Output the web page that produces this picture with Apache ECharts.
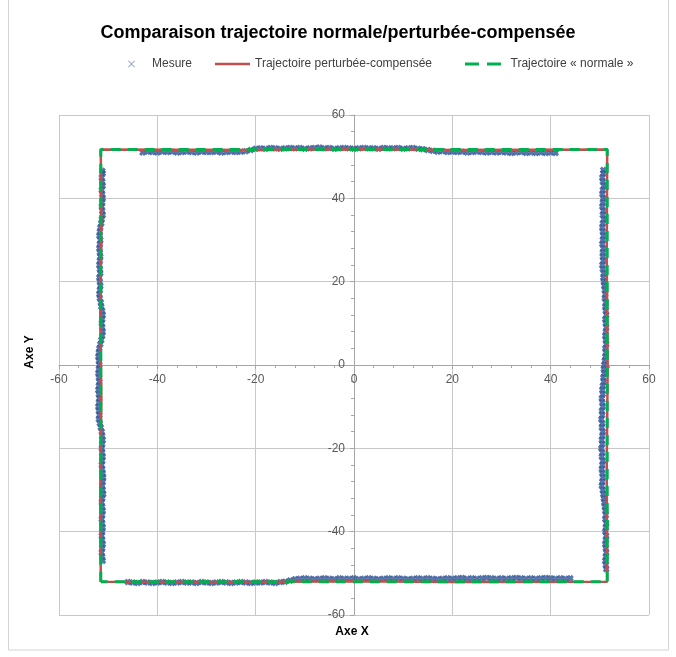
<!DOCTYPE html>
<html><head><meta charset="utf-8">
<script src="https://cdn.jsdelivr.net/npm/echarts@6/dist/echarts.min.js"></script>
<style>html,body{margin:0;padding:0;background:#fff}#c{width:676px;height:657px}</style>
</head><body><div id="c"></div>
<script>
const titleText = 'Comparaison trajectoire normale/perturbée-compensée';
const seriesNames = ['Mesure', 'Trajectoire perturbée-compensée', 'Trajectoire « normale »'];
const axisTicks = [-60, -40, -20, 0, 20, 40, 60];

// Mesure : points relevés le long des quatre côtés
const measureTop = [[-43,51.0],[-42,51.2],[-41,51.1],[-40,51.0],[-39,51.2],[-38,51.1],[-37,51.2],[-36,51.0],[-35,51.1],[-34,51.2],[-33,51.1],[-32,51.0],[-31,51.2],[-30,51.1],[-29,51.1],[-28,51.2],[-27,51.0],[-26,51.1],[-25,51.2],[-24,51.1],[-23,51.2],[-22,51.3],[-21,51.6],[-20,51.9],[-19,52.0],[-18,51.9],[-17,52.1],[-16,52.0],[-15,51.9],[-14,52.0],[-13,52.1],[-12,52.0],[-11,52.1],[-10,51.9],[-9,52.0],[-8,52.1],[-7,52.2],[-6,52.0],[-5,52.1],[-4,51.9],[-3,52.0],[-2,52.1],[-1,52.0],[0,51.9],[1,52.0],[2,52.1],[3,52.0],[4,52.0],[5,51.9],[6,52.1],[7,52.0],[8,52.0],[9,52.1],[10,51.9],[11,52.0],[12,52.1],[13,51.9],[14,51.8],[15,51.6],[16,51.4],[17,51.2],[18,51.3],[19,51.1],[20,51.2],[21,51.1],[22,51.2],[23,51.0],[24,51.1],[25,51.2],[26,51.1],[27,51.0],[28,51.1],[29,51.0],[30,51.1],[31,51.0],[32,50.9],[33,51.0],[34,51.1],[35,50.9],[36,51.0],[37,50.9],[38,51.0],[39,50.9],[40,51.0],[41,50.9]];
const measureRight = [[50.7,46.8],[50.7,46],[50.5,45],[50.6,44],[50.8,43],[50.6,42],[50.5,41],[50.7,40],[50.6,39],[50.5,38],[50.7,37],[50.6,36],[50.8,35],[50.6,34],[50.5,33],[50.6,32],[50.7,31],[50.6,30],[50.5,29],[50.7,28],[50.6,27],[50.6,26],[50.7,25],[50.5,24],[50.6,23],[50.8,22],[50.7,21],[50.8,20],[50.9,19],[51.0,18],[51.1,17],[51.0,16],[51.2,15],[51.1,14],[51.2,13],[51.3,12],[51.1,11],[51.2,10],[51.3,9],[51.2,8],[51.1,7],[51.2,6],[51.3,5],[51.1,4],[51.2,3],[51.1,2],[51.0,1],[50.9,0],[50.8,-1],[50.9,-2],[50.7,-3],[50.8,-4],[50.6,-5],[50.5,-6],[50.6,-7],[50.4,-8],[50.5,-9],[50.6,-10],[50.4,-11],[50.5,-12],[50.3,-13],[50.5,-14],[50.4,-15],[50.6,-16],[50.5,-17],[50.4,-18],[50.5,-19],[50.3,-20],[50.5,-21],[50.4,-22],[50.6,-23],[50.5,-24],[50.4,-25],[50.5,-26],[50.6,-27],[50.5,-28],[50.4,-29],[50.6,-30],[50.7,-31],[50.8,-32],[50.9,-33],[51.0,-34],[51.1,-35],[51.2,-36],[51.1,-37],[51.3,-38],[51.2,-39],[51.1,-40],[51.3,-41],[51.2,-42],[51.1,-43],[51.2,-44],[51.3,-45],[51.2,-46],[51.1,-47],[51.2,-48],[51.3,-49]];
const measureBottom = [[-46,-52.1],[-45,-52.2],[-44,-52.3],[-43,-52.1],[-42,-52.2],[-41,-52.3],[-40,-52.2],[-39,-52.1],[-38,-52.2],[-37,-52.3],[-36,-52.2],[-35,-52.1],[-34,-52.2],[-33,-52.2],[-32,-52.3],[-31,-52.1],[-30,-52.2],[-29,-52.3],[-28,-52.2],[-27,-52.1],[-26,-52.2],[-25,-52.3],[-24,-52.2],[-23,-52.1],[-22,-52.2],[-21,-52.3],[-20,-52.2],[-19,-52.2],[-18,-52.1],[-17,-52.2],[-16,-52.3],[-15,-52.1],[-14,-52.0],[-13,-51.7],[-12,-51.4],[-11,-51.3],[-10,-51.2],[-9,-51.3],[-8,-51.4],[-7,-51.3],[-6,-51.2],[-5,-51.3],[-4,-51.4],[-3,-51.2],[-2,-51.3],[-1,-51.3],[0,-51.2],[1,-51.4],[2,-51.3],[3,-51.2],[4,-51.3],[5,-51.4],[6,-51.3],[7,-51.2],[8,-51.3],[9,-51.2],[10,-51.3],[11,-51.4],[12,-51.3],[13,-51.2],[14,-51.3],[15,-51.2],[16,-51.3],[17,-51.4],[18,-51.3],[19,-51.2],[20,-51.3],[21,-51.2],[22,-51.1],[23,-51.3],[24,-51.2],[25,-51.3],[26,-51.2],[27,-51.1],[28,-51.2],[29,-51.3],[30,-51.2],[31,-51.3],[32,-51.2],[33,-51.1],[34,-51.2],[35,-51.3],[36,-51.2],[37,-51.3],[38,-51.2],[39,-51.1],[40,-51.2],[41,-51.3],[42,-51.2],[43,-51.3],[44,-51.2]];
const measureLeft = [[-51.2,46.6],[-51.1,46],[-51.3,45],[-51.2,44],[-51.1,43],[-51.3,42],[-51.2,41],[-51.1,40],[-51.2,39],[-51.3,38],[-51.2,37],[-51.1,36],[-51.3,35],[-51.4,34],[-51.6,33],[-51.7,32],[-51.8,31],[-51.6,30],[-51.7,29],[-51.8,28],[-51.7,27],[-51.6,26],[-51.7,25],[-51.8,24],[-51.7,23],[-51.6,22],[-51.8,21],[-51.7,20],[-51.6,19],[-51.7,18],[-51.8,17],[-51.7,16],[-51.5,15],[-51.4,14],[-51.2,13],[-51.1,12],[-51.2,11],[-51.3,10],[-51.2,9],[-51.1,8],[-51.2,7],[-51.4,6],[-51.6,5],[-51.8,4],[-51.9,3],[-52.0,2],[-51.9,1],[-51.8,0],[-51.9,-1],[-52.0,-2],[-51.9,-3],[-51.8,-4],[-51.9,-5],[-52.0,-6],[-51.9,-7],[-51.8,-8],[-51.9,-9],[-52.0,-10],[-51.9,-11],[-51.8,-12],[-51.9,-13],[-51.7,-14],[-51.5,-15],[-51.3,-16],[-51.2,-17],[-51.1,-18],[-51.2,-19],[-51.3,-20],[-51.2,-21],[-51.1,-22],[-51.2,-23],[-51.3,-24],[-51.2,-25],[-51.1,-26],[-51.0,-27],[-51.1,-28],[-51.2,-29],[-51.1,-30],[-51.0,-31],[-51.2,-32],[-51.3,-33],[-51.2,-34],[-51.1,-35],[-51.2,-36],[-51.3,-37],[-51.2,-38],[-51.1,-39],[-51.2,-40],[-51.3,-41],[-51.2,-42],[-51.1,-43],[-51.2,-44],[-51.3,-45],[-51.2,-46],[-51.1,-47]];

// Trajectoire perturbée-compensée
const compensatedPath = [[-51.5,-52.0],[-51.6,-30],[-51.4,-8],[-51.6,12],[-51.4,30],[-51.5,51.7],[-20,51.6],[0,51.8],[20,51.6],[51.5,51.7],[51.4,25],[51.6,0],[51.4,-25],[51.5,-52.0],[20,-52.1],[0,-51.9],[-20,-52.1],[-51.5,-52.0]];
// Trajectoire « normale »
const normalPath = [[-51.5,-52.0],[-51.5,51.7],[51.5,51.7],[51.5,-52.0],[-51.5,-52.0]];

const measureAll = measureTop.concat(measureRight, measureBottom, measureLeft);

const crossPath = 'path://M0,3L3,0L5,2L7,0L10,3L8,5L10,7L7,10L5,8L3,10L0,7L2,5Z';
const legendCross = 'path://M0,1L1,0L5,4L9,0L10,1L6,5L10,9L9,10L5,6L1,10L0,9L4,5Z';
const redIcon = 'path://M0,0H35V2.5H0Z';
const greenIcon = 'path://M0,0H14V3H0ZM22,0H36V3H22Z';
const blue = '#2f5496';
const red = '#c0504d';
const green = '#00b050';
const font = '"Liberation Sans", Arial, sans-serif';

function valueAxis(offset) {
  return {
    type: 'value', min: axisTicks[0], max: axisTicks[axisTicks.length - 1], interval: 20,
    offset: offset,
    axisLine: { show: true, onZero: false, lineStyle: { color: '#a6a6a6', width: 1 } },
    axisTick: { show: true, length: 4, lineStyle: { color: '#a6a6a6' } },
    minorTick: { show: true, splitNumber: 5, length: 3, lineStyle: { color: '#a6a6a6' } },
    axisLabel: { color: '#595959', fontSize: 12, fontFamily: font, margin: 9 },
    splitLine: { show: true, lineStyle: { color: '#c8c8c8', width: 1 } }
  };
}

const chart = echarts.init(document.getElementById('c'), null, { renderer: 'canvas' });
chart.setOption({
  backgroundColor: '#fff',
  animation: false,
  title: {
    text: titleText, left: 'center', top: 19,
    textStyle: { fontSize: 18, fontWeight: 'bold', color: '#000', fontFamily: font }
  },
  legend: [
    { data: [{ name: seriesNames[0], icon: legendCross }], left: 128, top: 58, padding: 0, itemWidth: 7, itemHeight: 7,
      itemStyle: { color: '#8497c0' },
      textStyle: { fontSize: 12, color: '#404040', fontFamily: font, padding: [0, 0, 0, 12] } },
    { data: [{ name: seriesNames[1], icon: redIcon }], left: 215, top: 58, padding: 0, itemWidth: 35, itemHeight: 3,
      itemStyle: { color: red },
      textStyle: { fontSize: 12, color: '#404040', fontFamily: font } },
    { data: [{ name: seriesNames[2], icon: greenIcon }], left: 465, top: 58, padding: 0, itemWidth: 45, itemHeight: 3,
      itemStyle: { color: green },
      textStyle: { fontSize: 12, color: '#404040', fontFamily: font } }
  ],
  grid: { left: 59, right: 27, top: 115, bottom: 42, containLabel: false },
  xAxis: valueAxis(-250),
  yAxis: valueAxis(-295),
  graphic: [
    { type: 'rect', shape: { x: 8.5, y: -2, width: 660, height: 652 }, style: { fill: 'none', stroke: '#d4d4d4', lineWidth: 1 }, silent: true, z: -10 },
    { type: 'text', x: 30, y: 352, rotation: Math.PI / 2,
      style: { text: 'Axe Y', font: 'bold 12px ' + font, fill: '#000', textAlign: 'center', textVerticalAlign: 'middle' } },
    { type: 'text', x: 352, y: 632,
      style: { text: 'Axe X', font: 'bold 12px ' + font, fill: '#000', textAlign: 'center', textVerticalAlign: 'middle' } }
  ],
  series: [
    { name: seriesNames[0], type: 'scatter', data: measureAll, symbol: crossPath, symbolSize: 7,
      itemStyle: { color: blue }, z: 2 },
    { name: seriesNames[1], type: 'line', data: compensatedPath, symbol: 'none', showSymbol: false,
      lineStyle: { color: red, width: 2.5 }, itemStyle: { color: red }, z: 3 },
    { name: seriesNames[2], type: 'line', data: normalPath, symbol: 'none', showSymbol: false,
      lineStyle: { color: green, width: 3, type: [10, 7] }, itemStyle: { color: green }, z: 4 }
  ]
});
</script>
</body></html>
